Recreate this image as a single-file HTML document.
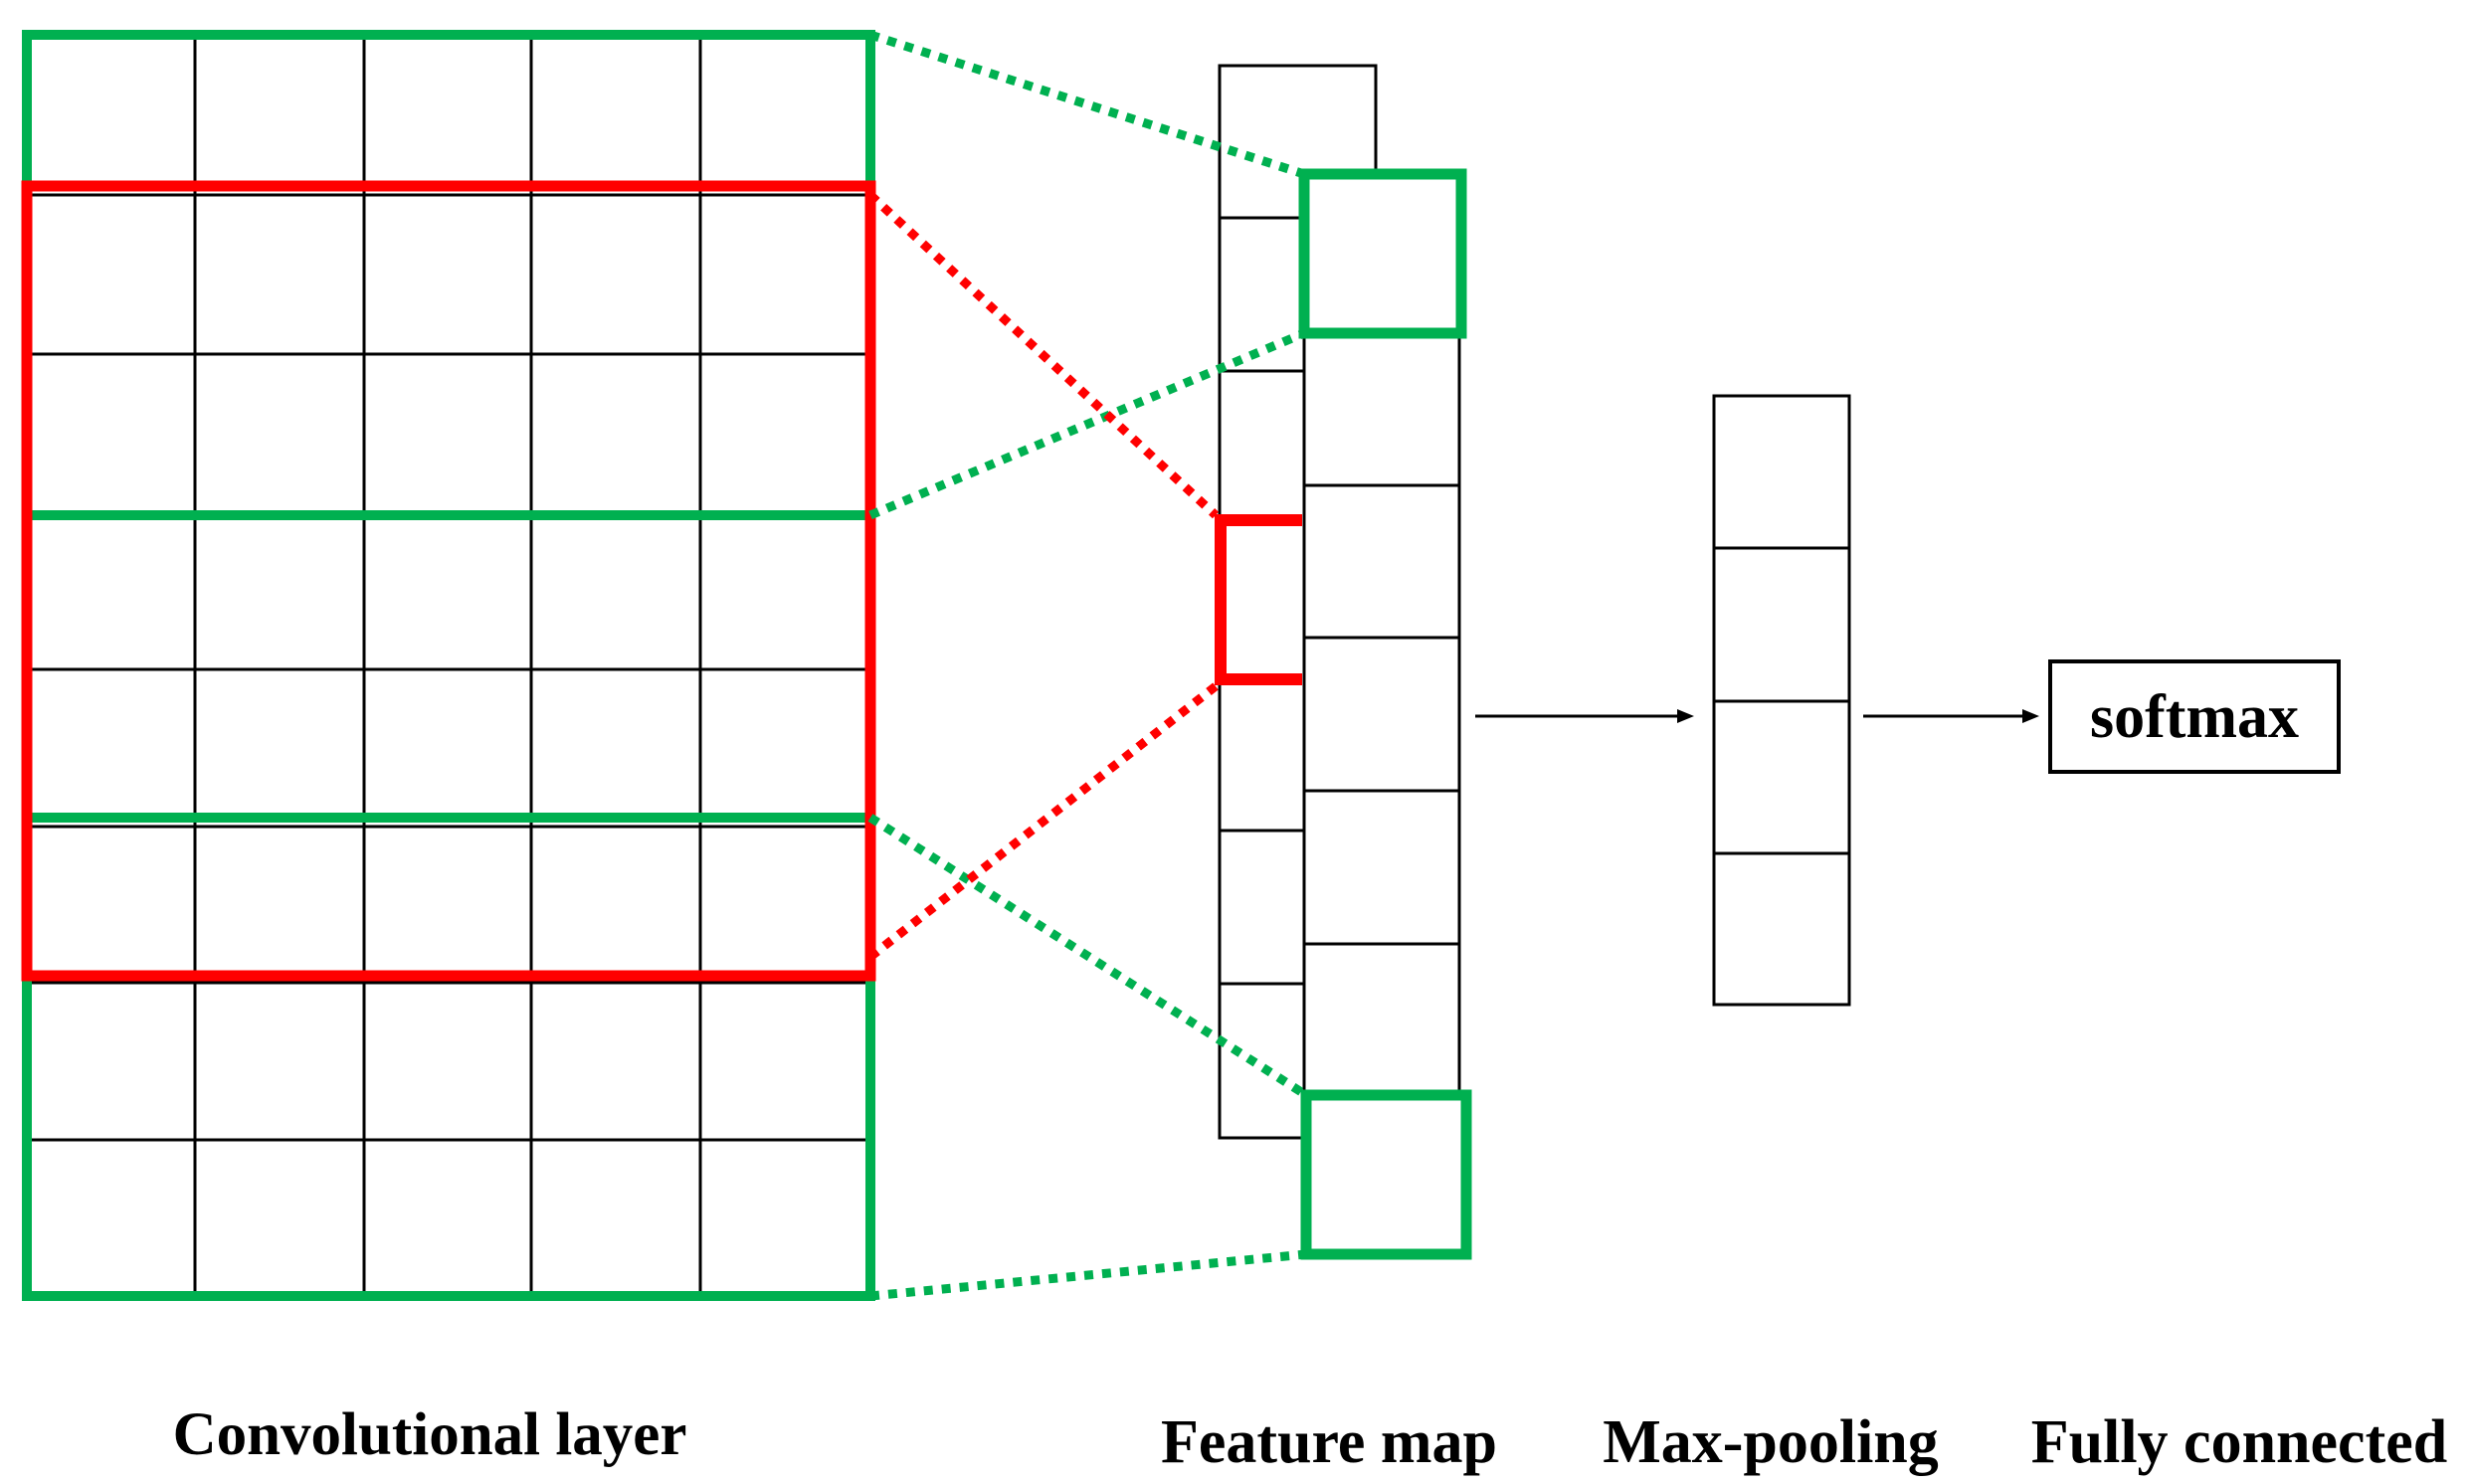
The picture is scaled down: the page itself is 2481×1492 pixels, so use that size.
<!DOCTYPE html>
<html><head><meta charset="utf-8"><style>
html,body{margin:0;padding:0;background:#fff;}
svg{display:block;}
text{font-family:"Liberation Serif",serif;font-weight:bold;fill:#000;}
</style></head><body>
<svg width="2481" height="1492" viewBox="0 0 2481 1492" xmlns="http://www.w3.org/2000/svg">
<rect width="2481" height="1492" fill="#fff"/>
<!-- conv grid -->
<g stroke="#000" stroke-width="3" fill="none">
<line x1="196" y1="35" x2="196" y2="1303"/>
<line x1="366" y1="35" x2="366" y2="1303"/>
<line x1="534" y1="35" x2="534" y2="1303"/>
<line x1="704" y1="35" x2="704" y2="1303"/>
<line x1="27" y1="196" x2="875" y2="196"/>
<line x1="27" y1="356" x2="875" y2="356"/>
<line x1="27" y1="673" x2="875" y2="673"/>
<line x1="27" y1="831" x2="875" y2="831"/>
<line x1="27" y1="988" x2="875" y2="988"/>
<line x1="27" y1="1146" x2="875" y2="1146"/>
</g>
<g stroke="#00b050" stroke-width="10" fill="none">
<rect x="27" y="35" width="848" height="1268"/>
<line x1="27" y1="518" x2="875" y2="518"/>
<line x1="27" y1="822" x2="875" y2="822"/>
</g>
<rect x="27" y="187" width="848" height="794" stroke="#ff0000" stroke-width="11" fill="none"/>
<!-- feature map back column -->
<g stroke="#000" stroke-width="3" fill="#fff">
<rect x="1226" y="66" width="157" height="1078"/>
<line x1="1226" y1="219" x2="1311" y2="219"/>
<line x1="1226" y1="373" x2="1311" y2="373"/>
<line x1="1226" y1="835" x2="1311" y2="835"/>
<line x1="1226" y1="989" x2="1311" y2="989"/>
<rect x="1311" y="175" width="156" height="925"/>
<line x1="1311" y1="335" x2="1467" y2="335"/>
<line x1="1311" y1="488" x2="1467" y2="488"/>
<line x1="1311" y1="641" x2="1467" y2="641"/>
<line x1="1311" y1="795" x2="1467" y2="795"/>
<line x1="1311" y1="949" x2="1467" y2="949"/>
</g>
<rect x="1311" y="175" width="158" height="160" stroke="#00b050" stroke-width="11" fill="#fff"/>
<rect x="1313" y="1101" width="161" height="160" stroke="#00b050" stroke-width="11" fill="#fff"/>
<polyline points="1309,523 1227,523 1227,683 1309,683" stroke="#ff0000" stroke-width="12" fill="none"/>
<!-- dotted connectors -->
<g stroke-width="9" stroke-dasharray="9 9" fill="none">
<line x1="875" y1="35" x2="1311" y2="175" stroke="#00b050"/>
<line x1="875" y1="518" x2="1311" y2="335" stroke="#00b050"/>
<line x1="875" y1="822" x2="1313" y2="1101" stroke="#00b050"/>
<line x1="875" y1="1303" x2="1313" y2="1261" stroke="#00b050"/>
<line x1="875" y1="196" x2="1222" y2="518" stroke="#ff0000"/>
<line x1="875" y1="962" x2="1222" y2="690" stroke="#ff0000"/>
</g>
<!-- max pooling -->
<g stroke="#000" stroke-width="3" fill="#fff">
<rect x="1723" y="398" width="136" height="612"/>
<line x1="1723" y1="551" x2="1859" y2="551"/>
<line x1="1723" y1="705" x2="1859" y2="705"/>
<line x1="1723" y1="858" x2="1859" y2="858"/>
</g>
<!-- arrows -->
<g stroke="#000" stroke-width="3">
<line x1="1483" y1="720" x2="1690" y2="720"/>
<line x1="1873" y1="720" x2="2037" y2="720"/>
</g>
<polygon points="1703,720 1686,713 1686,727" fill="#000"/>
<polygon points="2050,720 2033,713 2033,727" fill="#000"/>
<rect x="2061" y="665" width="290" height="111" stroke="#000" stroke-width="4" fill="#fff"/>
<text x="2206" y="741" font-size="62" text-anchor="middle">softmax</text>
<!-- labels -->
<text x="432" y="1462" font-size="61" text-anchor="middle">Convolutional  layer</text>
<text x="1336" y="1470" font-size="62" text-anchor="middle">Feature map</text>
<text x="1780" y="1470" font-size="62" text-anchor="middle">Max-pooling</text>
<text x="2251" y="1470" font-size="62" text-anchor="middle">Fully connected</text>
</svg>
</body></html>
